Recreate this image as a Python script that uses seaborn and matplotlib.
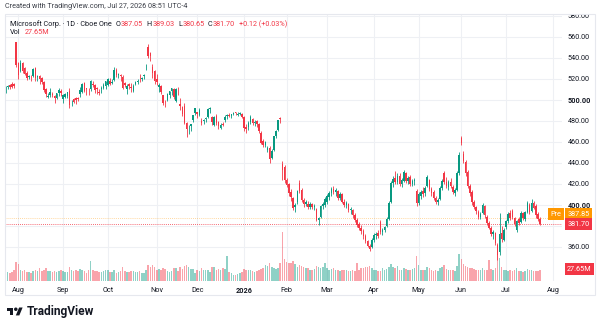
import numpy as np
import pandas as pd
import seaborn as sns
import matplotlib
matplotlib.use("Agg")
import matplotlib.pyplot as plt
from matplotlib.patches import Rectangle, Polygon, Circle

# MSFT daily bars, Jul 24 2025 -> Jul 24 2026, one line per month
opens = [
    508, 512, 514, 515, 515, 555,
    535, 528, 535, 530, 526, 522, 522, 523, 530, 522, 523, 521, 517, 510, 503, 505, 506, 504, 502, 507, 509,
    501, 503, 504, 509, 498, 501, 502, 502, 506, 508, 516, 511, 509, 510, 515, 514, 511, 508, 510, 511, 513,
    514, 518, 516, 519, 529, 524, 524, 522, 516, 510, 515, 512, 509, 515, 517, 521, 520, 523, 531, 550, 545, 531, 528,
    520, 512, 513, 505, 497, 500, 505, 509, 510, 499, 508, 496, 493, 494, 478, 474, 475, 481, 488,
    489, 486, 480, 480, 482, 484, 491, 484, 476, 485, 479, 473, 477, 481, 485, 486, 485, 487, 488, 486, 487, 487,
    484, 474, 474, 479, 482, 478, 480, 477, 469, 461, 457, 452, 454, 445, 452, 466, 471, 483, 439, 436,
    424, 420, 412, 407, 398, 403, 421, 414, 405, 401, 401, 398, 401, 398, 396, 386, 389, 399, 400,
    403, 408, 411, 415, 412, 413, 407, 410, 403, 400, 401, 395, 395, 390, 386, 382, 378, 375, 370, 366, 361, 360,
    367, 371, 373, 384, 374, 376, 380, 387, 403, 421, 426, 422, 428, 420, 423, 430, 423, 427, 420, 423, 413,
    402, 409, 413, 411, 418, 424, 415, 412, 407, 403, 406, 416, 430, 422, 417, 422, 417, 411, 414, 430,
    464, 449, 441, 431, 418, 412, 403, 398, 393, 389, 392, 399, 389, 383, 378, 372, 373, 362, 355, 373, 367,
    379, 385, 392, 394, 388, 376, 387, 384, 392, 387, 393, 400, 394, 402, 399, 391, 387.05,
]
highs = [
    513, 514, 515, 517, 516, 555.5,
    536, 538, 536, 531, 528, 524, 524, 530, 531, 524, 524, 522, 518, 511, 507, 511, 508, 505, 507, 511, 510,
    506, 507, 508, 511, 500, 502, 503, 503, 512, 516, 517, 511, 511, 519, 518, 515, 512, 510, 513, 516, 518,
    521, 521, 520, 531, 530, 526, 525, 524, 517, 515, 516, 516, 515, 518, 520, 525, 522, 525, 534, 553.7, 546, 534, 529,
    525, 516, 514, 505, 500, 507, 509, 511, 511, 511, 512, 502, 494, 497, 479, 476, 477, 486, 492,
    489, 492, 483, 482, 484, 492, 493, 485, 485, 487, 480, 478, 479, 486, 487, 488, 487, 489, 489, 489, 489, 488,
    485, 477, 480, 486, 483, 481, 481, 478, 470, 463, 461, 456, 456, 453, 466, 471, 481, 484, 442, 438,
    426, 421, 415, 408, 402, 414, 424, 416, 407, 405, 404, 403, 402, 401, 397, 389, 400, 403, 408,
    410, 413, 417, 418, 416, 414, 412, 411, 406, 404, 402, 398, 396, 392, 388, 384, 381, 377, 372, 367, 363, 369,
    373, 374, 376, 386, 378, 380, 389, 404, 423, 428, 432, 430, 430, 426, 433, 431, 428, 429, 425, 426, 415,
    412, 414, 417, 418, 429, 425, 417, 414, 409, 407, 418, 425, 432, 427, 424, 426, 419, 416, 432, 450,
    466, 451, 443, 433, 420, 414, 405, 399, 395, 393, 402, 400, 390, 385, 380, 376, 374, 364, 392, 380, 378,
    386, 393, 395, 396, 389, 386, 389, 394, 393, 394, 404, 402, 406, 404, 401, 393, 389.03,
]
lows = [
    507, 510, 510, 511, 511, 531,
    520, 527, 526, 524, 519, 520, 518, 522, 518, 518, 515, 515, 508, 503, 502, 503, 503, 497, 501, 504, 504,
    497, 502, 502, 492, 494, 497, 496, 499, 503, 507, 508, 505, 505, 509, 512, 507, 506, 505, 507, 510, 510,
    513, 514, 515, 518, 522, 521, 518, 510, 512, 506, 510, 508, 508, 514, 515, 517, 518, 520, 529, 540, 537, 521, 515,
    514, 508, 506, 495, 493, 499, 502, 505, 501, 498, 505, 490, 485, 477, 465, 468, 470, 479, 486,
    483, 485, 476, 477, 479, 483, 488, 476, 475, 476, 472, 472, 475, 479, 482, 484, 483, 486, 486, 485, 486, 483,
    470, 469, 471, 477, 476, 475, 474, 469, 458, 455, 455, 450, 440, 444, 451, 464, 470, 478, 424, 421,
    417, 409, 404, 395, 393, 401, 411, 403, 398, 399, 396, 396, 396, 395, 385, 381, 388, 396, 398,
    401, 405, 409, 410, 409, 405, 405, 402, 398, 397, 393, 391, 388, 384, 379, 376, 372, 368, 364, 360, 356, 359,
    365, 368, 369, 372, 371, 374, 379, 386, 402, 417, 420, 420, 418, 417, 422, 421, 420, 418, 418, 419, 399,
    400, 406, 408, 409, 417, 413, 409, 405, 401, 400, 405, 414, 420, 416, 414, 416, 410, 409, 413, 429,
    457, 440, 428, 416, 409, 400, 396, 391, 387, 387, 391, 388, 381, 377, 370, 368, 362, 348, 352, 365, 366,
    377, 383, 386, 387, 380, 374, 381, 383, 386, 385, 392, 391, 393, 396, 388, 385, 380.65,
]
closes = [
    510.9, 513.7, 512.5, 512.6, 513.2, 533.5,
    524.1, 535.6, 527.8, 524.9, 520.8, 522.0, 521.8, 529.2, 520.6, 522.5, 520.2, 517.1, 509.8, 505.7, 504.2, 507.2, 504.3, 502.0, 506.7, 509.6, 506.7,
    505.1, 505.4, 508.0, 495.0, 498.2, 498.4, 500.4, 501.0, 509.9, 515.4, 509.0, 510.0, 508.5, 517.9, 514.5, 509.2, 510.2, 507.0, 511.5, 514.6, 518.0,
    519.7, 515.7, 517.4, 528.6, 524.0, 524.9, 522.4, 511.0, 514.1, 513.6, 513.4, 511.6, 513.6, 516.8, 517.7, 520.5, 520.6, 523.6, 531.5, 542.1, 541.6, 525.8, 517.8,
    517.0, 514.3, 507.2, 497.1, 496.8, 506.0, 508.7, 511.1, 503.3, 510.2, 507.5, 493.8, 487.1, 478.4, 472.1, 474.0, 477.0, 485.5, 492.0,
    486.7, 490.0, 477.7, 480.8, 483.2, 491.0, 492.0, 478.6, 483.5, 478.5, 474.8, 476.4, 476.1, 484.0, 485.9, 484.9, 486.9, 488.0, 487.7, 487.1, 487.5, 483.6,
    472.9, 472.8, 478.5, 483.5, 478.1, 479.3, 477.2, 470.7, 459.4, 456.7, 459.9, 454.5, 444.1, 451.1, 466.0, 470.3, 480.6, 481.6, 433.5, 424.0,
    419, 411, 408, 397, 400, 413, 413, 405, 401, 403, 398, 401, 398, 399, 386, 388, 399, 401, 406,
    409, 411, 415, 412, 414, 407, 410, 403, 400, 402, 395, 396, 390, 386, 381, 378, 375, 370, 366, 361, 358, 367,
    371, 372, 370, 374, 376, 379, 387, 402, 421, 425, 422, 428, 420, 424, 431, 423, 426, 420, 423, 424, 402,
    410, 412, 410, 416, 427, 415, 411, 407, 403, 405, 416, 423, 422, 418, 422, 418, 412, 414, 430, 448,
    459, 442, 430, 418, 411, 403, 398, 394, 389, 391, 400, 390, 383, 378, 372, 374, 364, 352, 372, 368, 376,
    385, 391, 388, 389, 382, 385, 383, 392, 388, 393, 402, 393, 402, 397, 390, 387, 381.70,
]
volumes = [  # millions
    26, 24, 22, 24, 30, 51,
    44, 30, 26, 28, 24, 23, 22, 27, 30, 25, 33, 27, 29, 35, 26, 27, 23, 25, 23, 26, 28,
    26, 23, 24, 36, 29, 27, 29, 26, 31, 28, 25, 22, 28, 52, 28, 27, 27, 23, 24, 25, 28,
    30, 24, 23, 29, 22, 24, 25, 38, 26, 24, 23, 27, 27, 23, 23, 27, 22, 22, 30, 42, 38, 42, 36,
    30, 31, 30, 34, 31, 27, 23, 26, 33, 34, 27, 38, 31, 40, 41, 37, 32, 32, 22,
    28, 25, 35, 29, 29, 28, 23, 38, 36, 30, 31, 28, 33, 31, 66, 23, 22, 17, 15, 18, 20, 23,
    32, 30, 29, 28, 27, 24, 26, 29, 32, 35, 42, 40, 46, 37, 33, 31, 33, 46, 128, 58,
    50, 48, 46, 52, 45, 38, 42, 40, 36, 35, 34, 30, 29, 32, 40, 38, 34, 36, 48,
    34, 30, 32, 33, 30, 28, 27, 29, 30, 28, 26, 27, 28, 26, 48, 30, 33, 34, 36, 38, 40, 35,
    30, 28, 27, 26, 34, 28, 32, 38, 44, 36, 34, 40, 30, 29, 35, 31, 30, 28, 31, 35, 66,
    42, 30, 28, 30, 36, 33, 28, 27, 30, 26, 35, 38, 42, 32, 30, 29, 28, 27, 40, 72,
    58, 44, 40, 38, 35, 33, 32, 30, 30, 28, 33, 30, 29, 55, 32, 30, 34, 72, 60, 38, 30,
    28, 27, 30, 26, 28, 33, 25, 26, 24, 25, 32, 30, 29, 26, 27, 25, 27.65,
]

holidays = ['2025-09-01', '2025-11-27', '2025-12-25', '2026-01-01', '2026-01-19',
            '2026-02-16', '2026-04-03', '2026-05-25', '2026-06-19', '2026-07-03']
month_labels = ['Aug', 'Sep', 'Oct', 'Nov', 'Dec', '2026', 'Feb', 'Mar', 'Apr', 'May', 'Jun', 'Jul', 'Aug']
price_ticks = [360, 380, 400, 420, 440, 460, 480, 500, 520, 540, 560, 580]
last_close = 381.70
pre_price = 387.85

UP, DOWN, ORANGE = '#089981', '#f23645', '#ff9800'
TXT = '#131722'

o, h, l, c, v = (np.array(a, dtype=float) for a in (opens, highs, lows, closes, volumes))
assert len(o) == len(h) == len(l) == len(c) == len(v) == 252

# trading calendar (runs a week past the data so the Aug 2026 gridline has a slot)
days = pd.bdate_range('2025-07-24', '2026-08-05', freq='C', holidays=holidays)
idx = np.arange(len(c))
first_of_month = pd.Series(np.arange(len(days)), index=days).groupby(days.to_period('M')).first()
month_pos = first_of_month.values[1:14]

sns.set_theme(style='white')
plt.rcParams['font.family'] = ['Roboto', 'DejaVu Sans']

W, H = 600, 328
fig = plt.figure(figsize=(6, 3.28), dpi=100)


def fx(px):
    return px / W


def fy(py):
    return 1 - py / H


ax = fig.add_axes([fx(5), fy(281), fx(562) - fx(5), fy(14) - fy(281)])
ax.set_xlim(-0.25, 261.3)
ax.set_ylim(327.6, 581.9)

# grid
ax.set_xticks(month_pos)
ax.set_xticklabels(month_labels)
ax.set_yticks(price_ticks)
ax.set_yticklabels(['' if p == 380 else f'{p:.2f}' for p in price_ticks])
ax.grid(True, color='#eef0f4', lw=0.8)
ax.set_axisbelow(True)
for s in ax.spines.values():
    s.set_visible(False)
ax.yaxis.tick_right()
ax.tick_params(axis='y', length=0, pad=4, labelsize=5.2, labelcolor=TXT)
ax.tick_params(axis='x', length=0, pad=4.5, labelsize=5.2, labelcolor=TXT)
for t in ax.get_yticklabels():
    if t.get_text() in ('400.00', '500.00'):
        t.set_fontweight('bold')
for t in ax.get_xticklabels():
    if t.get_text() == '2026':
        t.set_fontweight('bold')

up = c >= o
col = np.where(up, UP, DOWN)

# volume overlay, scaled to the bottom of the pane
vol_max = 700
vol_trans = ax.get_xaxis_transform()
ax.bar(idx, v / vol_max, bottom=0, width=0.72, color=col, alpha=0.45, lw=0,
       transform=vol_trans, zorder=1)

# candles
ax.vlines(idx, l, h, colors=col, lw=0.6, zorder=3)
body = np.maximum(np.abs(c - o), 0.5)
ax.bar(idx, body, bottom=np.minimum(o, c), width=0.72, color=col, lw=0, zorder=4)

ax.axhline(last_close, color=DOWN, lw=0.6, ls=(0, (1, 1.5)), zorder=2)
ax.axhline(pre_price, color=ORANGE, lw=0.6, ls=(0, (1, 1.5)), alpha=0.5, zorder=2)

# price scale badges
ytr = ax.get_yaxis_transform()
ax.text(1.0092, 391.0, '387.85', transform=ytr, fontsize=5.2, color='white', va='center', ha='left',
        bbox=dict(boxstyle='square,pad=0.35', fc=ORANGE, ec='none'), clip_on=False, zorder=6)
ax.text(0.9995, 391.0, 'Pre', transform=ytr, fontsize=5.2, color='white', va='center', ha='right',
        bbox=dict(boxstyle='square,pad=0.35', fc=ORANGE, ec='none'), clip_on=False, zorder=6)
ax.text(1.0092, last_close, '381.70', transform=ytr, fontsize=5.2, color='white', va='center', ha='left',
        bbox=dict(boxstyle='square,pad=0.35', fc=DOWN, ec='none'), clip_on=False, zorder=6)
ax.text(1.0092, v[-1] / vol_max + 0.005, '27.65M', transform=ax.transAxes, fontsize=5.2, color='white',
        va='center', ha='left', bbox=dict(boxstyle='square,pad=0.35', fc=DOWN, ec='none'),
        clip_on=False, zorder=6)

# chart frame, and hide the top half of the clipped 580 label
fig.add_artist(Rectangle((fx(560), fy(13.5)), 1, 1, transform=fig.transFigure,
                         fc='white', ec='none', zorder=5))
fig.add_artist(Rectangle((fx(5), fy(295)), fx(595) - fx(5), fy(14) - fy(295),
                         transform=fig.transFigure, fill=False, ec='#e6e8ee', lw=0.8, zorder=6))

fig.text(fx(5), fy(7), 'Created with TradingView.com, Jul 27, 2026 08:51 UTC-4',
         fontsize=5.2, color='#3a3e47', va='center', ha='left')

# legend line made of coloured pieces
renderer = fig.canvas.get_renderer()


def text_run(x_px, y_px, parts):
    x = x_px
    for s, color, gap in parts:
        t = fig.text(fx(x), fy(y_px), s, fontsize=5.2, color=color, va='center', ha='left')
        x += t.get_window_extent(renderer).width + gap


text_run(10, 24, [('Microsoft Corp. · 1D · Cboe One', TXT, 4),
                  ('O', TXT, 0.4), ('387.05', DOWN, 3.5),
                  ('H', TXT, 0.4), ('389.03', DOWN, 3.5),
                  ('L', TXT, 0.4), ('380.65', DOWN, 3.5),
                  ('C', TXT, 0.4), ('381.70', DOWN, 3.5),
                  ('+0.12 (+0.03%)', DOWN, 0)])
text_run(10, 33, [('Vol', TXT, 4), ('27.65M', DOWN, 0)])

# TradingView logo
def lp(u, w):
    return ((7 + u * 0.44) / 100, (H - (307.5 + (w - 4) * 0.44)) / 100)


logo_kw = dict(transform=fig.dpi_scale_trans, fc=TXT, ec='none')
fig.add_artist(Polygon([lp(0, 4), lp(14, 4), lp(14, 22), lp(7, 22), lp(7, 11), lp(0, 11)], **logo_kw))
fig.add_artist(Polygon([lp(28, 22), lp(20, 22), lp(27.5, 4), lp(35.5, 4)], **logo_kw))
fig.add_artist(Circle(lp(20, 8), 4 * 0.44 / 100, **logo_kw))
fig.text(fx(26.5), fy(311.5), 'TradingView', fontsize=8.6, fontweight='bold', color=TXT,
         va='center', ha='left')

fig.savefig('out.png', dpi=100, facecolor='white')
